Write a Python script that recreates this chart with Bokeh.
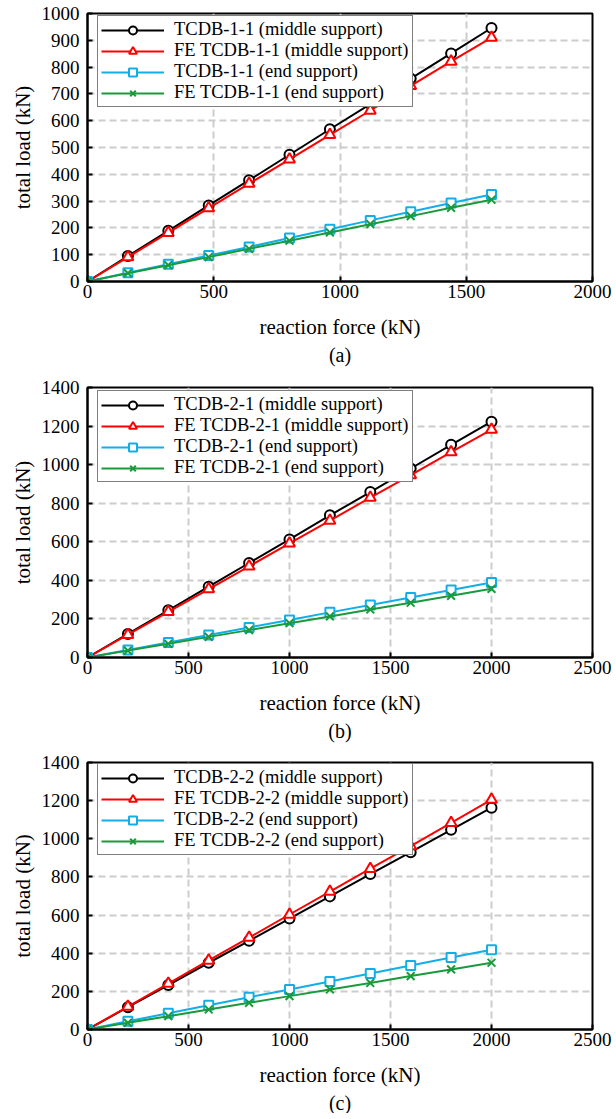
from bokeh.plotting import figure
from bokeh.models import Range1d, SingleIntervalTicker, Title
from bokeh.layouts import column
from bokeh.embed import file_html
from bokeh.resources import INLINE

# ---------------- data ----------------
# panel (a)
xa = [0, 160, 320, 480, 640, 800, 960, 1120, 1280, 1440, 1600]
a_test_mid = [0, 95, 189, 284, 378, 473, 568, 662, 757, 851, 946]
a_fe_mid = [0, 91, 182, 274, 365, 456, 547, 638, 730, 821, 910]
a_test_end = [0, 33, 64, 97, 129, 162, 195, 228, 260, 293, 325]
a_fe_end = [0, 31, 61, 91, 122, 152, 183, 214, 244, 275, 305]
a_labels = ["TCDB-1-1 (middle support)", "FE TCDB-1-1 (middle support)",
            "TCDB-1-1 (end support)", "FE TCDB-1-1 (end support)"]

# panel (b)
xb = [0, 200, 400, 600, 800, 1000, 1200, 1400, 1600, 1800, 2000]
b_test_mid = [0, 122, 245, 367, 490, 612, 737, 858, 980, 1103, 1223]
b_fe_mid = [0, 118, 237, 355, 473, 592, 710, 829, 946, 1065, 1182]
b_test_end = [0, 39, 78, 117, 156, 195, 234, 272, 311, 350, 389]
b_fe_end = [0, 36, 71, 107, 142, 178, 213, 249, 284, 320, 356]
b_labels = ["TCDB-2-1 (middle support)", "FE TCDB-2-1 (middle support)",
            "TCDB-2-1 (end support)", "FE TCDB-2-1 (end support)"]

# panel (c)
xc = [0, 200, 400, 600, 800, 1000, 1200, 1400, 1600, 1800, 2000]
c_test_mid = [0, 117, 233, 350, 465, 582, 698, 815, 930, 1047, 1163]
c_fe_mid = [0, 120, 241, 362, 482, 603, 723, 843, 962, 1084, 1205]
c_test_end = [0, 43, 85, 127, 169, 210, 252, 294, 336, 377, 418]
c_fe_end = [0, 35, 70, 105, 140, 175, 210, 244, 280, 315, 350]
c_labels = ["TCDB-2-2 (middle support)", "FE TCDB-2-2 (middle support)",
            "TCDB-2-2 (end support)", "FE TCDB-2-2 (end support)"]

x_title = "reaction force (kN)"
y_title = "total load (kN)"

# ---------------- styling ----------------
FONT = "'Liberation Serif', 'Times New Roman', Tinos, 'DejaVu Serif', serif"
COLORS = ["#000000", "#ff0000", "#12aee8", "#1a9a3c"]
MARKERS = ["circle", "triangle", "square", "x"]
MSIZES = [10, 11, 9, 11]


def make_panel(tag, x, ys, labels, xmax, ymax, ystep, frame_h, top, bottom, legend_top):
    p = figure(frame_width=505, frame_height=frame_h,
               x_range=Range1d(0, xmax), y_range=Range1d(0, ymax),
               output_backend="svg", toolbar_location=None,
               min_border_left=87, min_border_right=24,
               min_border_top=top, min_border_bottom=bottom)
    p.background_fill_color = "white"
    p.outline_line_color = "black"
    p.outline_line_width = 2
    p.outline_line_alpha = 1

    xt = SingleIntervalTicker(interval=500, num_minor_ticks=0)
    yt = SingleIntervalTicker(interval=ystep, num_minor_ticks=0)
    p.xaxis.ticker = xt
    p.yaxis.ticker = yt
    p.xgrid.ticker = xt
    p.ygrid.ticker = yt
    for g in (p.xgrid, p.ygrid):
        g.grid_line_color = "#cccccc"
        g.grid_line_width = 2
        g.grid_line_dash = "7 4"

    p.xaxis.axis_label = x_title
    p.yaxis.axis_label = y_title
    for ax in (p.xaxis, p.yaxis):
        ax.axis_line_color = "black"
        ax.axis_line_width = 2
        ax.major_tick_in = 5
        ax.major_tick_out = 0
        ax.major_tick_line_width = 2
        ax.major_tick_line_color = "black"
        ax.minor_tick_line_color = None
        ax.major_label_text_font = FONT
        ax.major_label_text_font_size = "19px"
        ax.major_label_text_color = "black"
        ax.axis_label_text_font = FONT
        ax.axis_label_text_font_size = "21px"
        ax.axis_label_text_font_style = "normal"
        ax.axis_label_text_color = "black"
    p.xaxis.major_label_standoff = 3
    p.xaxis.axis_label_standoff = 14
    p.yaxis.major_label_standoff = 8
    p.yaxis.axis_label_standoff = 4

    for y, lab, col, mk, ms in zip(ys, labels, COLORS, MARKERS, MSIZES):
        p.line(x, y, line_color=col, line_width=2, legend_label=lab)
        p.scatter(x, y, marker=mk, size=ms, line_color=col, fill_color="white",
                  line_width=2, legend_label=lab)

    lg = p.legend[0]
    lg_h = 90
    lg.location = (10, frame_h - legend_top - lg_h)
    lg.label_text_font = FONT
    lg.label_text_font_size = "18.5px"
    lg.label_text_color = "black"
    lg.border_line_color = "black"
    lg.border_line_width = 1.5
    lg.background_fill_color = "white"
    lg.background_fill_alpha = 1
    lg.padding = 3
    lg.spacing = 0
    lg.margin = 0
    lg.glyph_width = 63
    lg.glyph_height = 20
    lg.label_height = 20
    lg.label_standoff = 10

    p.add_layout(Title(text=tag, align="center", text_font=FONT,
                       text_font_size="20px", text_font_style="normal",
                       text_color="black", standoff=0), "below")
    return p


pa = make_panel("(a)", xa, [a_test_mid, a_fe_mid, a_test_end, a_fe_end], a_labels,
                2000, 1000, 100, 268, 13, 94, 4)
pb = make_panel("(b)", xb, [b_test_mid, b_fe_mid, b_test_end, b_fe_end], b_labels,
                2500, 1400, 200, 270, 12, 94, 5)
pc = make_panel("(c)", xc, [c_test_mid, c_fe_mid, c_test_end, c_fe_end], c_labels,
                2500, 1400, 200, 267, 11, 80, 3)

layout = column(pa, pb, pc, spacing=0)
open("out.html", "w").write(file_html(layout, INLINE))
